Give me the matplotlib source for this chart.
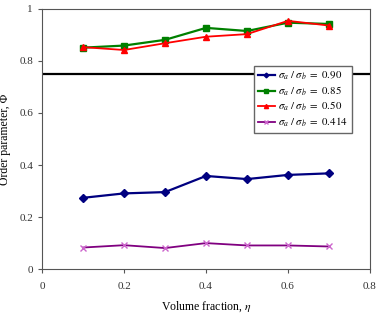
import matplotlib
matplotlib.use('Agg')
import matplotlib.pyplot as plt

plt.rcParams['font.family'] = ['Liberation Serif', 'DejaVu Serif']
plt.rcParams['mathtext.fontset'] = 'stix'

eta = [0.1, 0.2, 0.3, 0.4, 0.5, 0.6, 0.7]
phi_090 = [0.274, 0.291, 0.296, 0.358, 0.346, 0.362, 0.368]
phi_085 = [0.851, 0.859, 0.881, 0.927, 0.915, 0.947, 0.942]
phi_050 = [0.853, 0.842, 0.868, 0.893, 0.903, 0.954, 0.936]
phi_0414 = [0.083, 0.092, 0.081, 0.100, 0.091, 0.091, 0.087]
threshold = 0.75

labels = [r'$\sigma_a\ /\ \sigma_b\ =\ 0.90$',
          r'$\sigma_a\ /\ \sigma_b\ =\ 0.85$',
          r'$\sigma_a\ /\ \sigma_b\ =\ 0.50$',
          r'$\sigma_a\ /\ \sigma_b\ =\ 0.414$']

fig = plt.figure(figsize=(3.79, 3.17), dpi=100)
ax = fig.add_axes([0.111, 0.151, 0.865, 0.821])

ax.axhline(threshold, color='black', lw=1.6, zorder=1)

ax.plot(eta, phi_090, color='#000080', marker='D', ms=4, lw=1.6, label=labels[0], zorder=3)
ax.plot(eta, phi_085, color='#008000', marker='s', ms=5, lw=1.6, label=labels[1], zorder=3)
ax.plot(eta, phi_050, color='#ff0000', marker='^', ms=5, lw=1.3, label=labels[2], zorder=4)
ax.plot(eta, phi_0414, color='#800080', marker='x', ms=5, mec='#cc66cc', lw=1.3, label=labels[3], zorder=3)

ax.set_xlim(0, 0.8)
ax.set_ylim(0, 1)
ax.set_xticks([0, 0.2, 0.4, 0.6, 0.8])
ax.set_xticklabels(['0', '0.2', '0.4', '0.6', '0.8'])
ax.set_yticks([0, 0.2, 0.4, 0.6, 0.8, 1])
ax.set_yticklabels(['0', '0.2', '0.4', '0.6', '0.8', '1'])
ax.tick_params(direction='out', length=3, labelsize=8, colors='#555555', labelcolor='#333333')
ax.tick_params(axis='x', pad=6)
for s in ax.spines.values():
    s.set_color('#555555')

ax.set_xlabel(r'Volume fraction, $\eta$', fontsize=8.5)
ax.set_ylabel('Order parameter, Φ', fontsize=8.5)
ax.xaxis.set_label_coords(0.5, -0.115)
ax.yaxis.set_label_coords(-0.095, 0.5)

leg = ax.legend(loc='upper left', bbox_to_anchor=(0.646, 0.781), borderaxespad=0,
                fontsize=7.8, frameon=True, fancybox=False, edgecolor='#666666', framealpha=1,
                handlelength=1.6, handletextpad=0.3, borderpad=0.35, labelspacing=0.2,
                markerscale=0.6)
leg.set_zorder(5)

fig.savefig('out.png', dpi=100)
